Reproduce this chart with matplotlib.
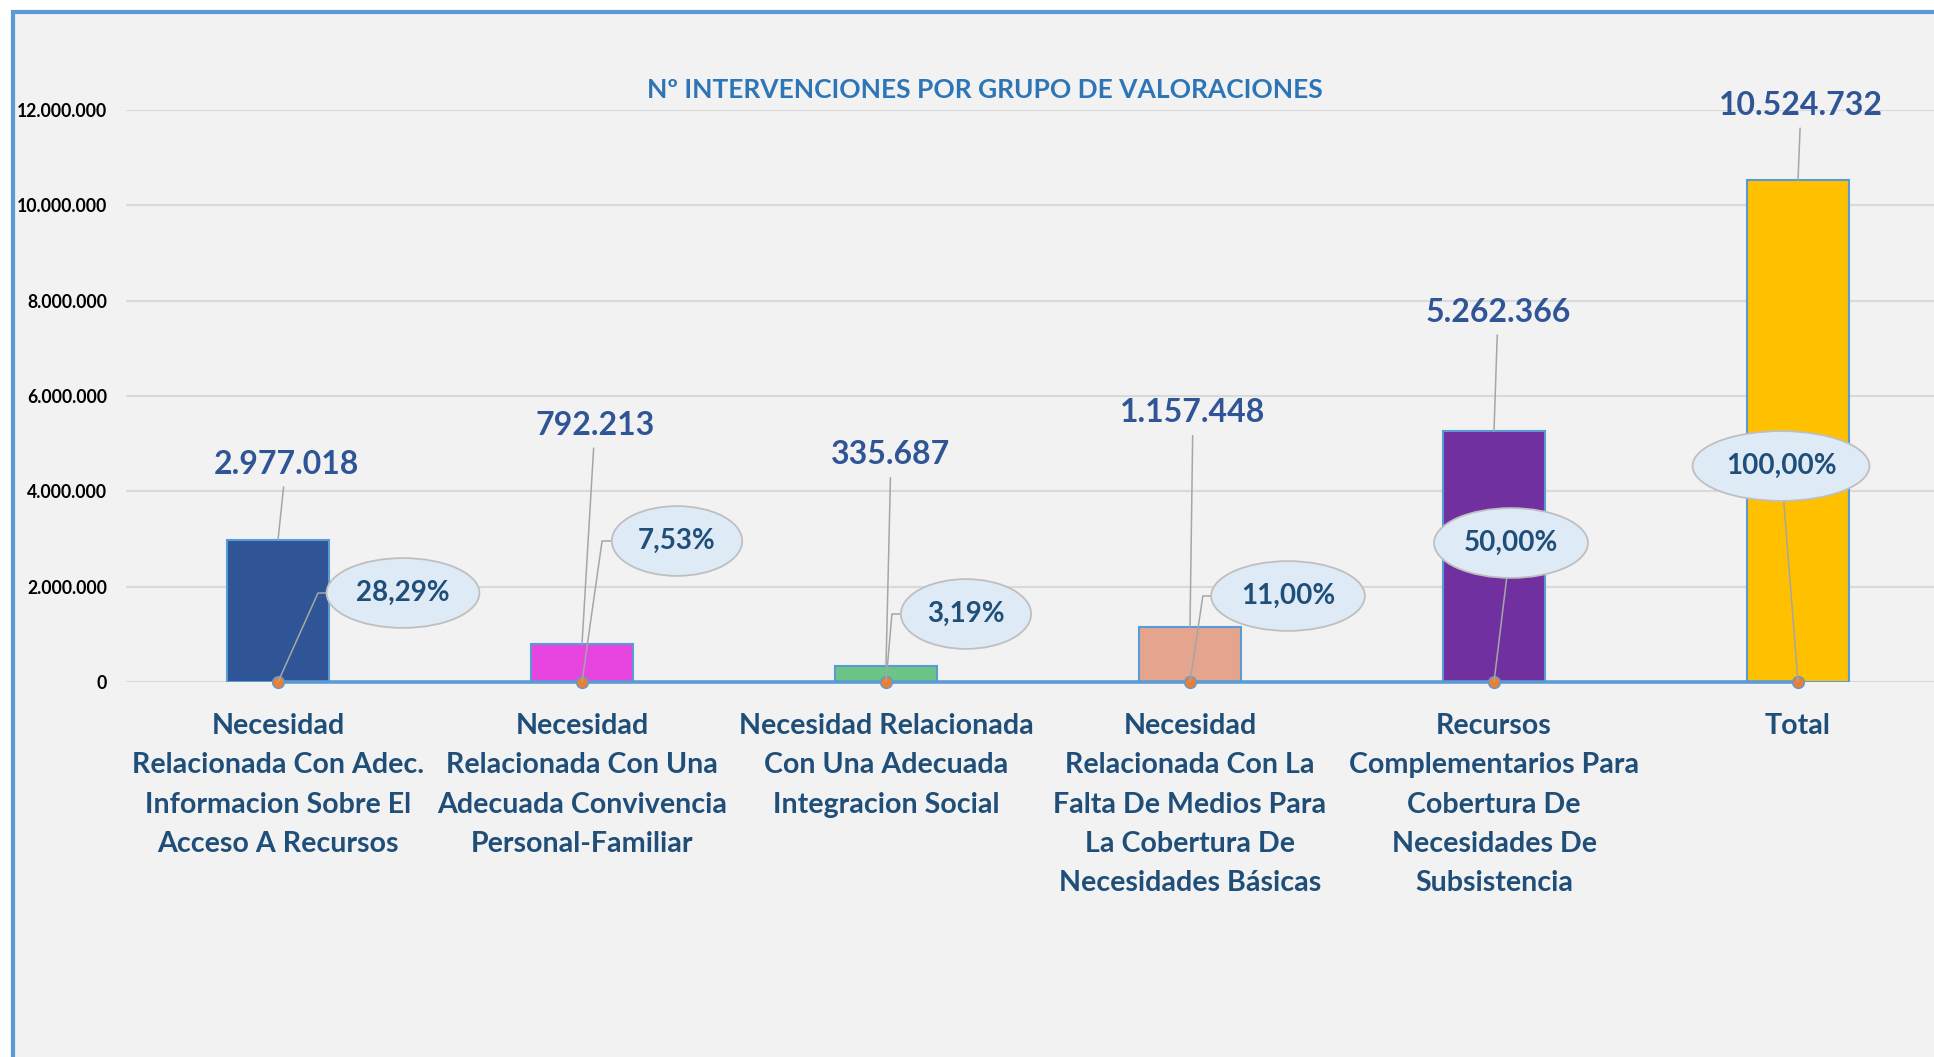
import matplotlib
matplotlib.use('Agg')
import matplotlib.pyplot as plt
from matplotlib.patches import Rectangle, BoxStyle
import numpy as np

plt.rcParams['font.family'] = ['Lato', 'DejaVu Sans']
plt.rcParams['font.weight'] = 'bold'

# Data
categories = ['Necesidad\nRelacionada Con Adec.\nInformacion Sobre El\nAcceso A Recursos',
              'Necesidad\nRelacionada Con Una\nAdecuada Convivencia\nPersonal-Familiar',
              'Necesidad Relacionada\nCon Una Adecuada\nIntegracion Social',
              'Necesidad\nRelacionada Con La\nFalta De Medios Para\nLa Cobertura De\nNecesidades Básicas',
              'Recursos\nComplementarios Para\nCobertura De\nNecesidades De\nSubsistencia',
              'Total']
values = [2977018, 792213, 335687, 1157448, 5262366, 10524732]
bar_colors = ['#2F5597', '#E845E0', '#6CC485', '#E5A48D', '#7030A0', '#FFC000']
y_ticks = [0, 2000000, 4000000, 6000000, 8000000, 10000000, 12000000]
title = 'Nº INTERVENCIONES POR GRUPO DE VALORACIONES'

# label placement (pixel offsets from the anchor point)
value_offsets = [(8, 76), (13, 219), (5, 211), (3, 214), (4, 119), (3, 75)]
pct_offsets = [(125, 89), (95, 141), (80, 68), (98, 86), (17, 139), (-17, 216)]
pct_angles = [65.8, 81.9, 85, 81.5, None, None]

total = values[-1]
pct_labels = ['{:.2f}%'.format(v / total * 100).replace('.', ',') for v in values]
value_labels = ['{:,}'.format(v).replace(',', '.') for v in values]


# ellipse a bit taller than the standard one
class TallEllipse(BoxStyle.Ellipse):
    def __call__(self, x0, y0, width, height, mutation_size):
        extra = 0.16 * mutation_size
        return super().__call__(x0, y0 - extra, width, height + 2 * extra, mutation_size)


W, H = 1934, 1057
fig = plt.figure(figsize=(W / 100, H / 100), dpi=100)
fig.patch.set_facecolor('white')

# chart area with blue border on top / left
fig.patches.append(Rectangle((13 / W, -0.1), 2, 1.1 - 12 / H, transform=fig.transFigure,
                             facecolor='#F2F2F2', edgecolor='#5B9BD5', lw=3, zorder=-5))

ax = fig.add_axes([126 / W, 1 - 682 / H, (1950 - 126) / W, (682 - 110) / H])
ax.set_zorder(2)
ax.set_facecolor('none')

x = np.arange(len(values))
ax.bar(x, values, width=0.335, color=bar_colors, edgecolor='#5B9BD5', lw=1.5, zorder=2)
ax.plot(x, np.zeros(len(x)), color='#5B9BD5', lw=2.6, marker='o', ms=8.5,
        mfc='#ED7D31', mec='#5B9BD5', mew=1, zorder=4, clip_on=False)

ax.set_xlim(-0.5, len(values) - 0.5)
ax.set_ylim(0, 12000000)
ax.set_yticks(y_ticks)
ax.set_yticklabels([('{:,}'.format(t)).replace(',', '.') for t in y_ticks],
                   fontsize=12.7, fontweight='bold', color='black')
ax.set_xticks(x)
ax.set_xticklabels(categories, fontsize=20.6, fontweight='bold', color='#1F4E79',
                   linespacing=1.63, va='top')
ax.tick_params(axis='both', length=0)
ax.tick_params(axis='y', pad=13.7)
ax.tick_params(axis='x', pad=22.5)
ax.yaxis.grid(True, color='#D9D9D9', lw=1.5, zorder=0)
ax.set_axisbelow(True)
for s in ax.spines.values():
    s.set_visible(False)

# value labels
for i, v in enumerate(values):
    ax.annotate(value_labels[i], xy=(i, v), xytext=value_offsets[i], textcoords='offset pixels',
                ha='center', va='center', fontsize=23, fontweight='bold', color='#2F5597',
                arrowprops=dict(arrowstyle='-', color='#A6A6A6', lw=1.1, shrinkA=4, shrinkB=0),
                zorder=5)

# percentage labels
for i, v in enumerate(values):
    if pct_angles[i] is not None:
        cs = 'angle,angleA=0,angleB={},rad=0'.format(pct_angles[i])
    else:
        cs = 'arc3'
    ax.annotate(pct_labels[i], xy=(i, 0), xytext=pct_offsets[i], textcoords='offset pixels',
                ha='center', va='center', fontsize=20, fontweight='bold', color='#1F4E79',
                bbox=dict(boxstyle=TallEllipse(pad=0.26), fc='#DEEBF7', ec='#BFBFBF', lw=1.3),
                arrowprops=dict(arrowstyle='-', color='#A6A6A6', lw=1.1, shrinkA=0, shrinkB=0,
                                connectionstyle=cs),
                zorder=6)

fig.text(985 / W, 1 - 90 / H, title, ha='center', va='center', fontsize=19,
         fontweight='bold', color='#2E75B6')

fig.savefig('out.png', dpi=100)
